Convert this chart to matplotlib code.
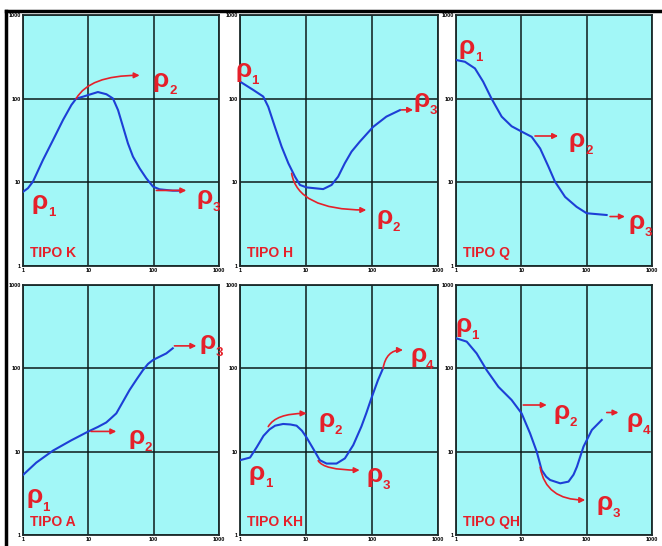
import matplotlib.pyplot as plt
from matplotlib.lines import Line2D

# apparent resistivity curves (AB/2 vs rho_a), one per curve type
k_x = [1, 1.19, 1.42, 2.02, 2.88, 4.1, 5.5, 6.5, 8.3, 10.5, 14, 18.9, 23.8, 28.5,
       34, 40.4, 48.2, 61, 77, 97.6, 123, 197, 250]
k_y = [7.7, 8.5, 10.2, 18.5, 32, 55.7, 84, 100, 105.7, 112, 120, 113, 100.6, 73,
       46, 29.2, 20.3, 14.7, 11.2, 8.9, 8.25, 7.95, 7.95]

h_x = [1, 1.59, 2.25, 2.68, 3.38, 4.27, 5.4, 6.8, 8.1, 10.2, 18.2, 24.4, 30.7,
       38.7, 49, 65, 104, 165, 265]
h_y = [160, 127, 106, 80, 46, 26.7, 16.9, 11.7, 9.3, 8.7, 8.3, 9.3, 11.7,
       16.9, 23.3, 30.5, 46, 61, 73]

q_x = [1, 1.37, 1.95, 2.6, 3.5, 5.0, 7.1, 10.1, 14.4, 19.4, 26, 32.7, 46.7, 70, 100, 202]
q_y = [290, 276, 230, 160, 100, 61, 46.8, 40.4, 35, 25.4, 15.4, 10.2, 6.7, 5.1, 4.27, 4.07]

a_x = [1, 1.6, 2.88, 5.5, 9.9, 14, 18.8, 22, 26.8, 34, 42.8, 55, 68.5, 82, 97.6, 156, 196]
a_y = [5.25, 7.4, 10.3, 13.7, 17.4, 19.8, 22.4, 25, 28.8, 40, 55, 74, 95, 113, 126, 151, 174]

kh_x = [1, 1.42, 1.79, 2.27, 2.8, 3.4, 4.5, 5.8, 7.2, 8.7, 10.2, 12.9, 16.2, 20.5,
        29, 38.8, 52, 69, 82, 97.7, 123, 147]
kh_y = [7.9, 8.5, 11.3, 15.5, 18.5, 20.5, 21.5, 21.2, 20.5, 17.8, 14.8, 10.8, 7.9,
        7.2, 7.2, 8.3, 12, 20, 29, 43.6, 72, 100]

qh_x = [1, 1.46, 2.07, 2.95, 4.46, 7.1, 10.1, 13.6, 17.2, 20.5, 24, 27.6, 39.4,
        52.7, 63, 71, 89.5, 120, 170]
qh_y = [230, 209, 151, 95, 60, 41.7, 28.8, 16.6, 10, 6.0, 5.0, 4.57, 4.17,
        4.37, 5.3, 6.6, 11.5, 18.2, 24]

# layer arrows: (start, end, start angle or None for straight)
k_arrows = [((6.5, 100), (61, 190), 60), ((110, 8.0), (316, 8.0), None)]
h_arrows = [((280, 73.5), (420, 73.5), None), ((6.05, 12.8), (82, 4.67), -80)]
q_arrows = [((16.2, 35.8), (36.6, 35.8), None), ((228, 3.9), (385, 3.9), None)]
a_arrows = [((11, 17.5), (26.8, 17.5), None), ((208, 186), (450, 186), None)]
kh_arrows = [((2.68, 20), (10.2, 28.8), 60), ((15.3, 7.8), (65, 6.0), -60),
             ((147, 100), (295, 166), 80)]
qh_arrows = [((10.7, 36.3), (24.5, 36.3), None), ((19.4, 6.5), (95, 2.63), -80),
             ((203, 29.5), (307, 29.5), None)]

# rho labels: (x, y, layer index)
k_labels = [(1.8, 5.9, 1), (130, 166, 2), (600, 6.7, 3)]
h_labels = [(1.12, 220, 1), (156, 3.9, 2), (560, 96, 3)]
q_labels = [(1.45, 420, 1), (71, 32, 2), (590, 3.4, 3)]
a_labels = [(1.5, 2.9, 1), (54, 15.1, 2), (680, 209, 3)]
kh_labels = [(1.8, 5.5, 1), (20.5, 24, 2), (110, 5.2, 3), (500, 145, 4)]
qh_labels = [(1.3, 330, 1), (41.6, 30, 2), (190, 2.4, 3), (550, 24, 4)]

titles = ["TIPO K", "TIPO H", "TIPO Q", "TIPO A", "TIPO KH", "TIPO QH"]
ticks = [1, 10, 100, 1000]
tick_labels = ["1", "10", "100", "1000"]

RED = "#e5202a"
BLUE = "#1d3fd6"
CYAN = "#a2f7f7"

plt.rcParams['font.family'] = ['Liberation Sans', 'DejaVu Sans']

fig = plt.figure(figsize=(6.62, 5.46), dpi=100)

col_x = [23, 240, 456]
col_w = [196, 198, 196]
row_top = [15, 285]
row_h = [251, 250]

curves = [(k_x, k_y), (h_x, h_y), (q_x, q_y), (a_x, a_y), (kh_x, kh_y), (qh_x, qh_y)]
arrows = [k_arrows, h_arrows, q_arrows, a_arrows, kh_arrows, qh_arrows]
labels = [k_labels, h_labels, q_labels, a_labels, kh_labels, qh_labels]


def rho_label(ax, x, y, n):
    ax.text(x, y, "ρ", color=RED, fontsize=19, fontweight="bold",
            ha="center", va="center")
    ax.annotate(str(n), (x, y), xytext=(8.5, -8), textcoords="offset points",
                color=RED, fontsize=9.5, fontweight="bold", ha="center", va="center")


for i in range(6):
    r, c = divmod(i, 3)
    left = col_x[c] / 662
    bottom = 1 - (row_top[r] + row_h[r]) / 546
    ax = fig.add_axes([left, bottom, col_w[c] / 662, row_h[r] / 546])
    ax.set_xscale("log")
    ax.set_yscale("log")
    ax.set_xlim(1, 1000)
    ax.set_ylim(1, 1000)
    ax.set_facecolor(CYAN)
    ax.set_xticks(ticks)
    ax.set_xticklabels(tick_labels)
    ax.set_yticks(ticks)
    ax.set_yticklabels(tick_labels)
    ax.minorticks_off()
    ax.tick_params(length=0, pad=1.5, labelsize=4)
    for t in ax.get_xticklabels() + ax.get_yticklabels():
        t.set_fontweight("bold")
    ax.grid(True, color="#0d1a1a", lw=1.1)
    for s in ax.spines.values():
        s.set_color("#1a2a2a")
        s.set_linewidth(1.3)

    xs, ys = curves[i]
    ax.plot(xs, ys, color=BLUE, lw=1.5, zorder=3, solid_joinstyle="round")

    for start, end, ang in arrows[i]:
        if ang is None:
            cs = "arc3,rad=0"
        else:
            cs = "angle3,angleA=%d,angleB=0" % ang
        ax.annotate("", xy=end, xytext=start,
                    arrowprops=dict(arrowstyle="-|>", color=RED, lw=1.2,
                                    mutation_scale=8, shrinkA=0, shrinkB=0,
                                    connectionstyle=cs), zorder=4)

    for x, y, n in labels[i]:
        rho_label(ax, x, y, n)

    ax.text(0.035, 0.025, titles[i], transform=ax.transAxes, color=RED,
            fontsize=10, fontweight="bold", ha="left", va="bottom")

# outer frame lines
fig.add_artist(Line2D([6 / 662, 1], [1 - 11 / 546, 1 - 11 / 546], color="black", lw=2.5))
fig.add_artist(Line2D([6 / 662, 6 / 662], [0, 1 - 11 / 546], color="black", lw=2.5))

fig.savefig("out.png", dpi=100)
